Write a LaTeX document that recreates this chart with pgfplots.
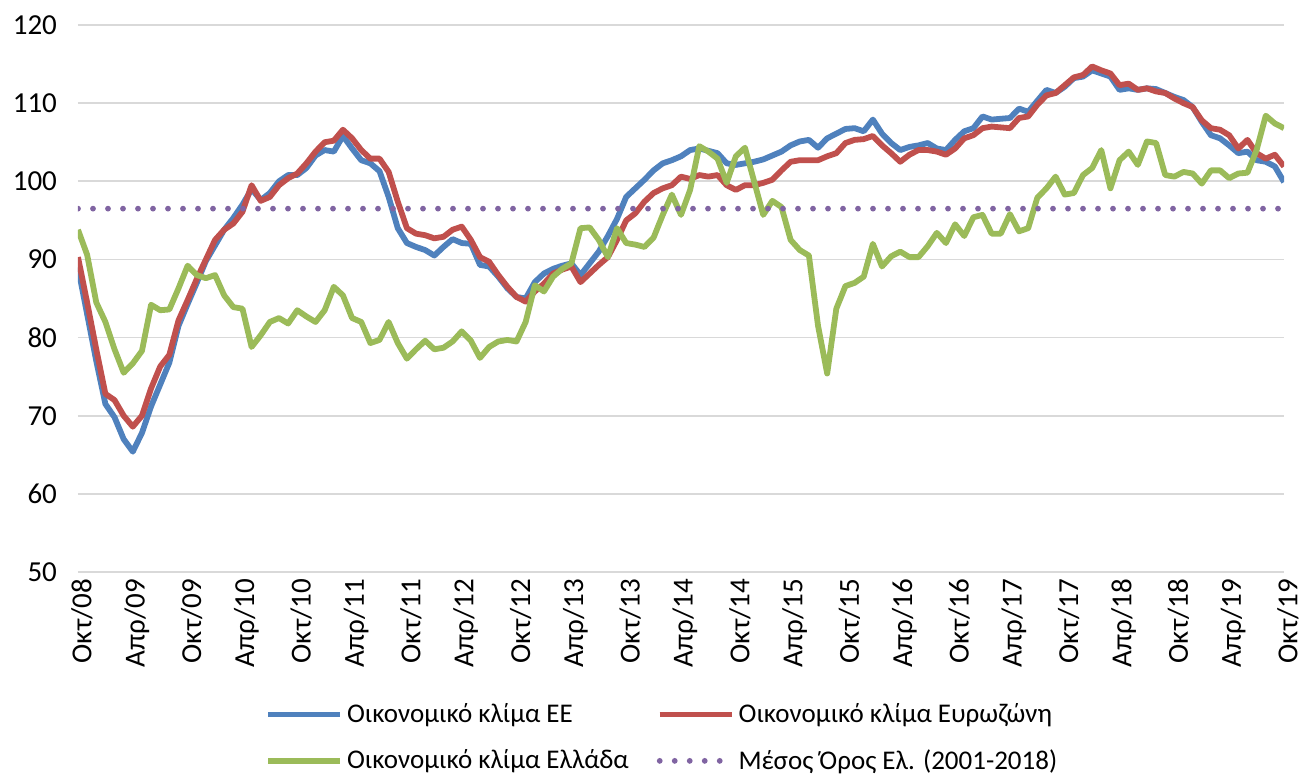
\documentclass[border=0pt]{standalone}
\usepackage{fontspec}
\setmainfont{Carlito}
\usepackage{pgfplots}
\usepackage{pgfplotstable}
\pgfplotsset{compat=1.18}

\definecolor{eeblue}{HTML}{4F81BD}
\definecolor{ezred}{HTML}{C0504D}
\definecolor{grgreen}{HTML}{9BBB59}
\definecolor{avgpurple}{HTML}{8064A2}
\definecolor{gridgray}{HTML}{D9D9D9}

% month index (0 = Oct 2008), EU, Eurozone, Greece
\pgfplotstableread{
i ee ez gr
0 89.0 90.3 93.8
1 83.0 84.5 90.6
2 77.0 78.5 84.5
3 71.5 72.8 82.0
4 69.8 72.0 78.5
5 67.0 70.0 75.5
6 65.4 68.6 76.7
7 67.8 70.0 78.3
8 71.2 73.5 84.2
9 74.0 76.3 83.5
10 76.8 77.8 83.6
11 81.5 82.2 86.3
12 84.3 84.8 89.2
13 87.0 87.5 88.0
14 89.8 90.0 87.6
15 91.8 92.5 88.0
16 93.8 93.8 85.4
17 95.3 94.6 83.9
18 97.0 96.1 83.7
19 99.0 99.5 78.8
20 97.6 97.5 80.3
21 98.5 98.0 82.0
22 100.0 99.5 82.5
23 100.8 100.4 81.8
24 100.8 101.0 83.5
25 101.7 102.3 82.7
26 103.3 103.8 82.0
27 104.0 105.0 83.5
28 103.8 105.2 86.5
29 105.8 106.6 85.4
30 104.2 105.5 82.5
31 102.7 104.0 82.0
32 102.3 102.9 79.3
33 101.3 102.9 79.7
34 98.0 101.2 82.0
35 94.0 97.4 79.3
36 92.1 94.0 77.3
37 91.6 93.3 78.5
38 91.2 93.1 79.6
39 90.5 92.7 78.5
40 91.6 92.9 78.7
41 92.6 93.8 79.5
42 92.1 94.2 80.8
43 92.0 92.5 79.6
44 89.3 90.3 77.4
45 89.1 89.7 78.8
46 87.8 88.0 79.5
47 86.3 86.5 79.7
48 85.2 85.2 79.5
49 85.0 84.6 82.0
50 87.1 85.9 86.7
51 88.2 86.9 85.9
52 88.8 88.2 87.8
53 89.2 88.7 88.8
54 89.5 89.1 89.5
55 88.0 87.1 94.0
56 89.5 88.2 94.1
57 91.0 89.3 92.5
58 93.0 90.3 90.3
59 95.2 92.5 94.0
60 98.0 95.0 92.1
61 99.1 95.9 91.9
62 100.2 97.4 91.6
63 101.4 98.5 92.8
64 102.3 99.1 95.7
65 102.7 99.5 98.3
66 103.2 100.6 95.7
67 104.0 100.3 98.9
68 104.2 100.8 104.5
69 103.9 100.6 103.8
70 103.6 100.8 102.9
71 102.3 99.5 99.8
72 102.1 98.9 103.2
73 102.3 99.5 104.3
74 102.5 99.5 100.0
75 102.8 99.8 95.7
76 103.3 100.2 97.5
77 103.8 101.4 96.7
78 104.6 102.5 92.5
79 105.1 102.7 91.2
80 105.3 102.7 90.5
81 104.3 102.7 81.5
82 105.5 103.2 75.4
83 106.1 103.6 83.7
84 106.7 104.9 86.6
85 106.8 105.3 87.0
86 106.4 105.4 87.8
87 107.9 105.8 92.0
88 106.1 104.6 89.1
89 104.9 103.6 90.4
90 104.0 102.5 91.0
91 104.4 103.4 90.3
92 104.6 104.0 90.3
93 104.9 104.0 91.7
94 104.2 103.8 93.4
95 104.0 103.4 92.1
96 105.3 104.2 94.5
97 106.4 105.5 93.0
98 106.8 105.9 95.4
99 108.3 106.8 95.7
100 107.9 107.0 93.3
101 108.0 106.9 93.3
102 108.1 106.8 95.8
103 109.3 108.1 93.6
104 108.9 108.3 94.0
105 110.3 109.8 97.9
106 111.7 111.0 99.1
107 111.3 111.3 100.6
108 112.1 112.3 98.3
109 113.2 113.3 98.5
110 113.4 113.6 100.8
111 114.2 114.7 101.7
112 113.8 114.2 104.0
113 113.4 113.8 99.1
114 111.7 112.3 102.7
115 111.9 112.5 103.8
116 111.7 111.7 102.1
117 111.9 111.9 105.1
118 111.8 111.5 104.9
119 111.3 111.3 100.8
120 110.8 110.6 100.6
121 110.4 110.0 101.2
122 109.5 109.5 101.0
123 107.6 107.8 99.7
124 105.9 106.8 101.4
125 105.5 106.6 101.4
126 104.6 105.9 100.4
127 103.6 104.2 101.0
128 103.8 105.3 101.1
129 102.7 103.6 104.0
130 102.5 102.9 108.4
131 101.9 103.4 107.4
132 99.9 101.9 106.8
}\climate

\begin{document}
\begin{tikzpicture}[font=\fontsize{13.5}{16}\selectfont]
\useasboundingbox (-39pt,-100.5pt) rectangle (613.5pt,286pt);
\begin{axis}[
    at={(0,0)}, anchor=south west,
    scale only axis,
    width=603pt, height=273.5pt,
    xmin=0, xmax=132,
    ymin=50, ymax=120,
    ytick={50,60,...,120},
    xtick={0,6,...,132},
    xticklabels={Οκτ/08,Απρ/09,Οκτ/09,Απρ/10,Οκτ/10,Απρ/11,Οκτ/11,Απρ/12,Οκτ/12,Απρ/13,Οκτ/13,Απρ/14,Οκτ/14,Απρ/15,Οκτ/15,Απρ/16,Οκτ/16,Απρ/17,Οκτ/17,Απρ/18,Οκτ/18,Απρ/19,Οκτ/19},
    xticklabel style={rotate=90, anchor=east, yshift=-2pt, font=\fontsize{14.5}{17}\selectfont},
    yticklabel style={xshift=-7pt, font=\fontsize{14.5}{17}\selectfont},
    /pgf/number format/assume math mode=true,
    axis line style={draw=none},
    tick style={draw=none},
    ymajorgrids,
    grid style={color=gridgray, line width=0.9pt},
    legend columns=2,
    legend cell align=left,
    legend style={
        at={(axis description cs:0.15,-0.225)}, anchor=north west,
        draw=none, fill=none,
        font=\fontsize{13.5}{16}\selectfont,
        row sep=8pt,
        /tikz/column 2/.style={column sep=12pt},
    },
    legend image code/.code={\draw[#1] (0pt,0pt) -- (36pt,0pt);},
    every axis plot/.append style={line width=2.9pt, line join=round},
]
\addplot[color=eeblue] table[x=i, y=ee] {\climate};
\addlegendentry{Οικονομικό κλίμα ΕΕ}
\addplot[color=ezred] table[x=i, y=ez] {\climate};
\addlegendentry{Οικονομικό κλίμα Ευρωζώνη}
\addplot[color=grgreen] table[x=i, y=gr] {\climate};
\addlegendentry{Οικονομικό κλίμα Ελλάδα}
\addplot[color=avgpurple, line cap=round, dash pattern=on 0pt off 7.5pt] coordinates {(0,96.5) (132,96.5)};
\addlegendentry{Μέσος Όρος Ελ. (2001-2018)}
\end{axis}
\end{tikzpicture}
\end{document}
